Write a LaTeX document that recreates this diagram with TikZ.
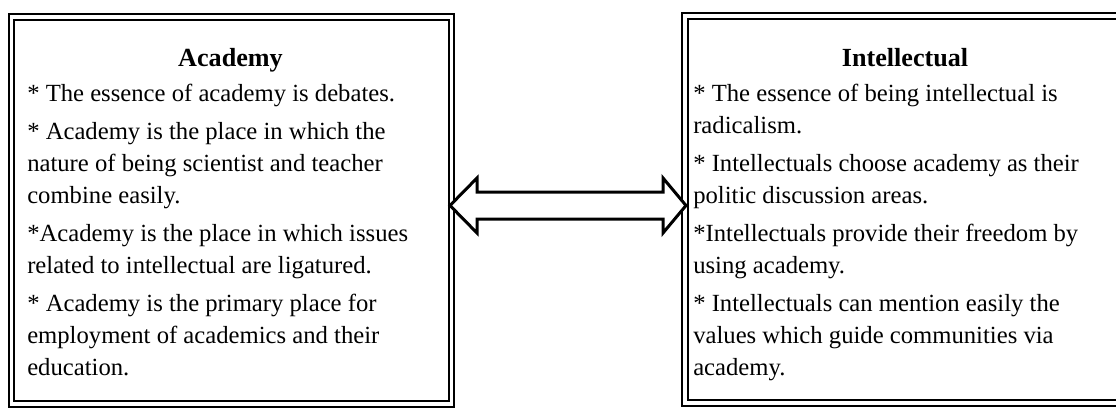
\documentclass[tikz,border=0pt]{standalone}
\usepackage{fontspec}
\setmainfont{Liberation Serif}
\begin{document}
\begin{tikzpicture}[x=0.75pt,y=-0.75pt,
  frameline/.style={draw=black, double=white, line width=1.5pt, double distance=2.6pt},
  frame/.style={frameline, inner sep=0pt, anchor=north west, minimum height=290.25pt},
  heading/.style={font=\fontsize{19.6pt}{22pt}\selectfont\bfseries, inner sep=0pt, anchor=base},
  ln/.style={font=\fontsize{18.5pt}{22pt}\selectfont, inner sep=0pt, anchor=base west},
  blockarrow/.style={draw=black, line width=2.25pt, line join=miter, fill=white}]
\useasboundingbox (0,0) rectangle (1116,407);
\begin{scope}
\clip (0,0) rectangle (1116,407);
% left framed box
\node[frame, minimum width=330pt] (academy) at (10.5,16) {};
% right framed box, open towards the right edge of the page
\coordinate (intellectual) at (685,16);
\draw[frameline] (1140,16) -- (intellectual) -- (685,403) -- (1140,403);
\end{scope}

% two-headed block arrow between the boxes
\coordinate (tipL) at (450,205.5);
\coordinate (tipR) at (686,205.5);
\draw[blockarrow] (tipL) -- (477,178) -- (477,192) -- (663,192) -- (663,178) -- (tipR)
  -- (663,233) -- (663,219) -- (477,219) -- (477,233) -- cycle;

% left box text
\node[heading] (atitle) at (230.5,66) {Academy};
\node[ln] (a1) at (27,101) {* The essence of academy is debates.};
\node[ln] (a2) at (27,139) {* Academy is the place in which the};
\node[ln] (a3) at (27,171) {nature of being scientist and teacher};
\node[ln] (a4) at (27,203) {combine easily.};
\node[ln] (a5) at (27,241) {*Academy is the place in which issues};
\node[ln] (a6) at (27,273) {related to intellectual are ligatured.};
\node[ln] (a7) at (27,311) {* Academy is the primary place for};
\node[ln] (a8) at (27,343) {employment of academics and their};
\node[ln] (a9) at (27,375) {education.};

% right box text
\node[heading] (btitle) at (905,66) {Intellectual};
\node[ln] (b1) at (693,101) {* The essence of being intellectual is};
\node[ln] (b2) at (693,133) {radicalism.};
\node[ln] (b3) at (693,171) {* Intellectuals choose academy as their};
\node[ln] (b4) at (693,203) {politic discussion areas.};
\node[ln] (b5) at (693,241) {*Intellectuals provide their freedom by};
\node[ln] (b6) at (693,273) {using academy.};
\node[ln] (b7) at (693,311) {* Intellectuals can mention easily the};
\node[ln] (b8) at (693,343) {values which guide communities via};
\node[ln] (b9) at (693,375) {academy.};
\end{tikzpicture}
\end{document}
